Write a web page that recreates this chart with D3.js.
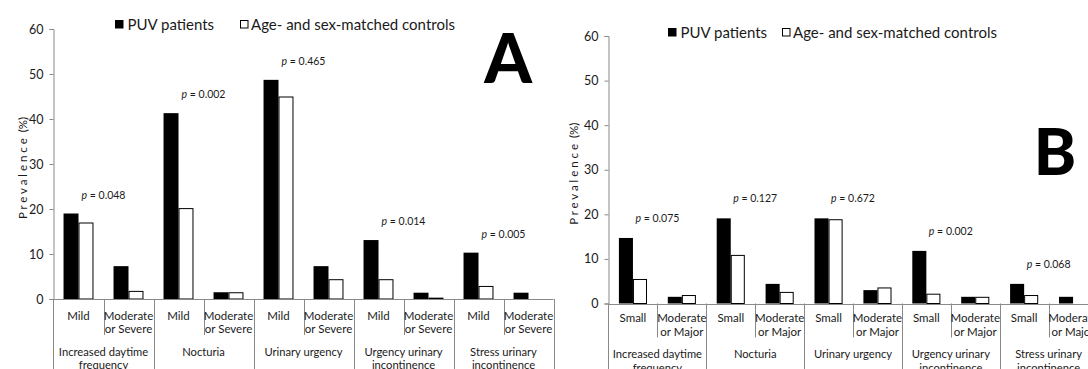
<!DOCTYPE html>
<html>
<head>
<meta charset="utf-8">
<script src="https://cdn.jsdelivr.net/npm/d3@7"></script>
<style>
  body { margin: 0; background: #fff; }
  svg { display: block; font-family: Lato, "Open Sans", sans-serif; }
</style>
</head>
<body>
<svg id="chart" width="1088" height="369"></svg>
<script>
// data
var groupLines = [
  ['Increased daytime', 'frequency'],
  ['Nocturia'],
  ['Urinary urgency'],
  ['Urgency urinary', 'incontinence'],
  ['Stress urinary', 'incontinence']
]
var seriesNames = ['PUV patients', 'Age- and sex-matched controls']
var subLinesA = [['Mild'], ['Moderate', 'or Severe']]
var subLinesB = [['Small'], ['Moderate', 'or Major']]

var puvA = [19.0, 7.3, 41.3, 1.5, 48.7, 7.3, 13.1, 1.4, 10.3, 1.4]
var ctrlA = [17.0, 1.8, 20.2, 1.5, 45.0, 4.4, 4.4, 0.3, 2.9, 0]
var pA = ['0.048', '0.002', '0.465', '0.014', '0.005']

var puvB = [14.7, 1.5, 19.1, 4.4, 19.1, 3.0, 11.8, 1.5, 4.4, 1.5]
var ctrlB = [5.5, 1.9, 10.9, 2.6, 18.9, 3.6, 2.2, 1.5, 1.9, 0]
var pB = ['0.075', '0.127', '0.672', '0.002', '0.068']

var yTicks = [0, 10, 20, 30, 40, 50, 60]

var axisGrey = '#898989'
  , textCol = '#1a1a1a'

var svg = d3.select('#chart')

var drawPanel = function(opt) {
  var g = svg.append('g')

  var y = d3.scaleLinear().domain([0, 60]).range([opt.y0, opt.y60])
  var xGroup = d3.scaleBand().domain(d3.range(groupLines.length)).range([opt.x0, opt.x1])
  var xSub = d3.scaleBand().domain([0, 1]).range([0, xGroup.bandwidth()])
  var xSer = d3.scaleBand().domain([0, 1]).range([0, xSub.bandwidth()]).paddingOuter(opt.pad)

  var rows = []
  opt.puv.forEach(function(v, i) {
    rows.push({ gi: Math.floor(i / 2), si: i % 2, ser: 0, v: v })
    rows.push({ gi: Math.floor(i / 2), si: i % 2, ser: 1, v: opt.ctrl[i] })
  })
  var xOf = function(d) { return xGroup(d.gi) + xSub(d.si) + xSer(d.ser) }

  // y axis
  var yAxis = g.append('g')
    .attr('transform', 'translate(' + opt.x0 + ',0)')
    .call(d3.axisLeft(y).tickValues(yTicks).tickSize(4).tickPadding(6))
  yAxis.select('.domain').attr('stroke', axisGrey)
  yAxis.selectAll('.tick line').attr('stroke', axisGrey)
  yAxis.selectAll('.tick text').attr('fill', textCol).style('font-size', '12.5px').style('font-family', 'Lato')

  // y axis extends down through the category area
  g.append('line')
    .attr('x1', opt.x0).attr('x2', opt.x0)
    .attr('y1', opt.y0).attr('y2', 369)
    .attr('stroke', axisGrey)

  // category separators
  var seps = []
  d3.range(groupLines.length).forEach(function(gi) {
    seps.push({ x: xGroup(gi) + xSub(1), major: false })
    seps.push({ x: xGroup(gi) + xGroup.bandwidth(), major: true })
  })
  g.selectAll('line.sep').data(seps).enter().append('line')
    .attr('class', 'sep')
    .attr('x1', function(d) { return Math.round(d.x) + 0.5 })
    .attr('x2', function(d) { return Math.round(d.x) + 0.5 })
    .attr('y1', opt.y0)
    .attr('y2', function(d) { return d.major ? 369 : opt.y0 + opt.minorLen })
    .attr('stroke', axisGrey)

  // bars
  g.selectAll('rect.bar').data(rows.filter(function(d) { return d.v > 0 })).enter().append('rect')
    .attr('class', 'bar')
    .attr('x', function(d) { return xOf(d) + (d.ser ? 0.5 : 0) })
    .attr('width', function(d) { return xSer.bandwidth() - (d.ser ? 1 : 0) })
    .attr('y', function(d) { return y(d.v) + (d.ser ? 0.5 : 0) })
    .attr('height', function(d) { return y(0) - y(d.v) - (d.ser ? 0.5 : 0) })
    .attr('fill', function(d) { return d.ser ? '#fff' : '#000' })
    .attr('stroke', function(d) { return d.ser ? '#000' : 'none' })
    .attr('stroke-width', 1)

  // x axis line
  g.append('line')
    .attr('x1', opt.x0).attr('x2', opt.x1)
    .attr('y1', Math.round(y(0)) + 0.5).attr('y2', Math.round(y(0)) + 0.5)
    .attr('stroke', axisGrey)

  // sub-category labels
  var subLabels = []
  d3.range(groupLines.length).forEach(function(gi) {
    opt.subLines.forEach(function(lines, si) {
      lines.forEach(function(t, li) {
        subLabels.push({ x: xGroup(gi) + xSub(si) + xSub.bandwidth() / 2, li: li, t: t })
      })
    })
  })
  g.selectAll('text.sub').data(subLabels).enter().append('text')
    .attr('class', 'sub')
    .attr('x', function(d) { return d.x })
    .attr('y', function(d) { return opt.subY + d.li * opt.lineH })
    .attr('text-anchor', 'middle')
    .attr('dominant-baseline', 'central')
    .attr('fill', textCol)
    .style('font-size', '11.5px')
    .text(function(d) { return d.t })

  // group labels
  var grpLabels = []
  groupLines.forEach(function(lines, gi) {
    lines.forEach(function(t, li) {
      grpLabels.push({ x: xGroup(gi) + xGroup.bandwidth() / 2, li: li, t: t })
    })
  })
  g.selectAll('text.grp').data(grpLabels).enter().append('text')
    .attr('class', 'grp')
    .attr('x', function(d) { return d.x })
    .attr('y', function(d) { return opt.grpY + d.li * opt.lineH })
    .attr('text-anchor', 'middle')
    .attr('dominant-baseline', 'central')
    .attr('fill', textCol)
    .style('font-size', '11.2px')
    .text(function(d) { return d.t })

  // p values above each group
  var pText = g.selectAll('text.pval').data(opt.p).enter().append('text')
    .attr('class', 'pval')
    .attr('x', function(d, i) { return xGroup(i) + xGroup.bandwidth() / 2 })
    .attr('y', function(d, i) {
      var top = d3.max(opt.puv.slice(i * 2, i * 2 + 2).concat(opt.ctrl.slice(i * 2, i * 2 + 2)))
      return y(top) - opt.pOff
    })
    .attr('text-anchor', 'middle')
    .attr('dominant-baseline', 'central')
    .attr('fill', textCol)
    .style('font-size', '10.5px')
  pText.append('tspan').style('font-style', 'italic').text('p')
  pText.append('tspan').text(function(d) { return ' = ' + d })

  // y axis title
  g.append('text')
    .attr('transform', 'translate(' + opt.titleX + ',' + ((opt.y0 + opt.y60) / 2 + 4) + ') rotate(-90)')
    .attr('text-anchor', 'middle')
    .attr('dominant-baseline', 'central')
    .attr('fill', textCol)
    .style('font-size', '11.5px')
    .style('white-space', 'pre')
    .text('P r e v a l e n c e  (%)')

  // legend
  var leg = g.append('g').attr('transform', 'translate(' + opt.legX + ',' + opt.legY + ')')
  leg.append('rect').attr('x', 0).attr('y', -4).attr('width', 8.5).attr('height', 8.5).attr('fill', '#000')
  leg.append('text').attr('x', 12.5).attr('y', 0).attr('dominant-baseline', 'central')
    .attr('fill', textCol).style('font-size', '15px').text(seriesNames[0])
  leg.append('rect').attr('x', opt.legGap + 0.5).attr('y', -3.5).attr('width', 7.5).attr('height', 7.5)
    .attr('fill', '#fff').attr('stroke', '#000')
  leg.append('text').attr('x', opt.legGap + 11).attr('y', 0).attr('dominant-baseline', 'central')
    .attr('fill', textCol).style('font-size', '15px').text(seriesNames[1])

  // panel letter
  g.append('text')
    .attr('x', opt.letterX).attr('y', opt.letterY)
    .attr('text-anchor', 'middle')
    .attr('fill', '#000')
    .style('font-size', opt.letterSize + 'px')
    .style('font-weight', 900)
    .text(opt.letter)
}

drawPanel({
  puv: puvA, ctrl: ctrlA, p: pA, subLines: subLinesA,
  x0: 53.5, x1: 553.5, y0: 299, y60: 29, pad: 0.67,
  minorLen: 36, subY: 315, grpY: 351, lineH: 13, pOff: 19,
  titleX: 22, legX: 115, legY: 24, legGap: 125,
  letter: 'A', letterX: 508, letterY: 83, letterSize: 68
})

drawPanel({
  puv: puvB, ctrl: ctrlB, p: pB, subLines: subLinesB,
  x0: 608.5, x1: 1097.5, y0: 303.5, y60: 36, pad: 0.74,
  minorLen: 34, subY: 317, grpY: 353, lineH: 14, pOff: 20,
  titleX: 573, legX: 668, legY: 32, legGap: 114,
  letter: 'B', letterX: 1055, letterY: 175, letterSize: 64
})
</script>
</body>
</html>
